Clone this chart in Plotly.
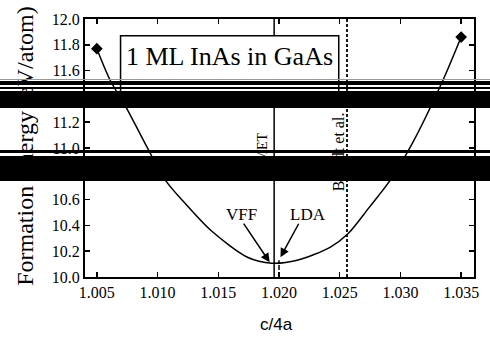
import plotly.graph_objects as go

# ---- data ----
c_vff = [1.0050, 1.0061, 1.0075, 1.0090, 1.0107, 1.0123, 1.0144, 1.0174, 1.0194,
         1.0215, 1.0242, 1.0257, 1.0274, 1.0291, 1.0310, 1.0335, 1.0350]
e_vff = [11.77, 11.525, 11.30, 11.03, 10.743, 10.567, 10.360, 10.153, 10.107,
         10.130, 10.230, 10.337, 10.536, 10.743, 11.04, 11.525, 11.86]

met_c = 1.0196          # solid vertical line (MET)
brandt_c = 1.0256       # dashed vertical line (Brandt et al.)
lda_c = 1.0200          # LDA minimum
lda_e = 10.13

x_ticks = [1.005, 1.010, 1.015, 1.020, 1.025, 1.030, 1.035]
y_ticks = [10.0, 10.2, 10.4, 10.6, 10.8, 11.0, 11.2, 11.4, 11.6, 11.8, 12.0]

x_range = [1.004024, 1.036057]
y_range = [10.0, 12.0]

SERIF = "Liberation Serif, Times New Roman, serif"
SANS = "Liberation Sans, Arial, sans-serif"

fig = go.Figure()

# vertical reference lines
fig.add_trace(go.Scatter(x=[met_c, met_c], y=y_range, mode="lines",
                         line=dict(color="black", width=1.5), hoverinfo="skip"))
fig.add_trace(go.Scatter(x=[brandt_c, brandt_c], y=y_range, mode="lines",
                         line=dict(color="black", width=1.8, dash="3px,2px"), hoverinfo="skip"))
fig.add_trace(go.Scatter(x=[lda_c, lda_c], y=[y_range[0], lda_e], mode="lines",
                         line=dict(color="black", width=1.5, dash="5px,2px"), hoverinfo="skip"))

# VFF curve
fig.add_trace(go.Scatter(x=c_vff, y=e_vff, mode="lines",
                         line=dict(color="black", width=1.5, shape="spline", smoothing=0.8),
                         hoverinfo="skip"))
fig.add_trace(go.Scatter(x=[c_vff[0], c_vff[-1]], y=[e_vff[0], e_vff[-1]], mode="markers",
                         marker=dict(symbol="diamond", size=9, color="black"), hoverinfo="skip"))

PW, PH, L, T = 394.0, 261.0, 85.0, 16.0
def px(X):
    return (X - L) / PW
def py(Y):
    return (T + PH - Y) / PH

# text box
fig.add_shape(type="rect", xref="paper", yref="paper",
              x0=px(121), x1=px(342), y0=py(100), y1=py(33),
              line=dict(color="black", width=1.5), fillcolor="white", layer="above")

ann = []
ann.append(dict(text="1 ML InAs in GaAs", xref="paper", yref="paper", x=px(231.5), y=py(54),
                xanchor="center", yanchor="middle", showarrow=False,
                font=dict(family=SERIF, size=26, color="black")))
ann.append(dict(text="VFF", x=1.01687, y=10.483, xanchor="center", yanchor="middle",
                showarrow=False, font=dict(family=SERIF, size=17, color="black")))
ann.append(dict(text="LDA", x=1.02240, y=10.483, xanchor="center", yanchor="middle",
                showarrow=False, font=dict(family=SERIF, size=17, color="black")))
ann.append(dict(text="", x=1.01923, y=10.115, ax=-27, ay=-40, showarrow=True,
                arrowhead=2, arrowsize=1.2, arrowwidth=1.5, arrowcolor="black"))
ann.append(dict(text="", x=1.02012, y=10.153, ax=19, ay=-35, showarrow=True,
                arrowhead=2, arrowsize=1.2, arrowwidth=1.5, arrowcolor="black"))
ann.append(dict(text="MET", x=1.01860, y=11.004, textangle=-90, xanchor="center",
                yanchor="middle", showarrow=False, font=dict(family=SERIF, size=14, color="black")))
ann.append(dict(text="Brandt et al.", x=1.02492, y=10.973, textangle=-90, xanchor="center",
                yanchor="middle", showarrow=False, font=dict(family=SERIF, size=16, color="black")))
ann.append(dict(text="Formation Energy (eV/atom)", xref="paper", yref="paper",
                x=px(24), y=py(144.5), textangle=-90, xanchor="center", yanchor="middle",
                showarrow=False, font=dict(family=SERIF, size=24, color="black")))
ann.append(dict(text="c/4a", xref="paper", yref="paper", x=px(279), y=py(325),
                xanchor="center", yanchor="middle", showarrow=False,
                font=dict(family=SANS, size=17, color="black")))

# scan bands (black bars across the page)
bands = [(77, 78, "#999999"), (79, 83, "black"), (85, 87, "black"), (89, 106, "black"),
         (149, 152, "black"), (155, 180, "black")]
for y0, y1, col in bands:
    ann.append(dict(text=" ", xref="paper", yref="paper", x=px(245), y=py(y0),
                    xanchor="center", yanchor="top", width=520, height=y1 - y0,
                    bgcolor=col, borderpad=0, borderwidth=0, showarrow=False,
                    font=dict(size=1, color=col)))

fig.update_layout(
    width=490, height=337,
    margin=dict(l=85, r=11, t=16, b=60),
    paper_bgcolor="white", plot_bgcolor="white",
    showlegend=False,
    annotations=ann,
    xaxis=dict(range=x_range, tickvals=x_ticks, tickformat=".3f",
               ticks="inside", ticklen=5, tickwidth=1.5, tickcolor="black",
               showline=True, linewidth=2, linecolor="black", mirror="ticks",
               showgrid=False, zeroline=False,
               tickfont=dict(family=SERIF, size=16, color="black")),
    yaxis=dict(range=y_range, tickvals=y_ticks, tickformat=".1f",
               ticks="inside", ticklen=5, tickwidth=1.5, tickcolor="black",
               showline=True, linewidth=2, linecolor="black", mirror="ticks",
               showgrid=False, zeroline=False,
               tickfont=dict(family=SERIF, size=16, color="black")),
)

fig.write_html("out.html", config={"displayModeBar": False, "staticPlot": True},
               post_script="document.body.style.margin='0';document.body.style.overflow='hidden';")
